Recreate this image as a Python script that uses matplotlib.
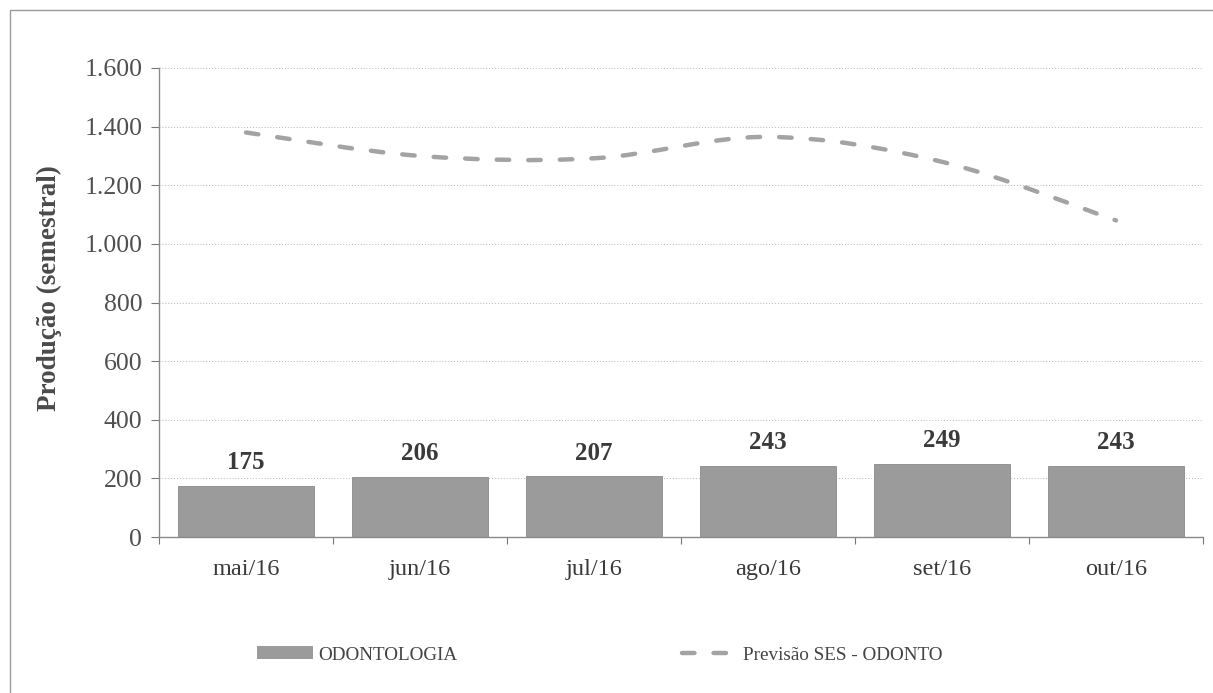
import matplotlib
matplotlib.use("Agg")
import matplotlib.pyplot as plt
from matplotlib.path import Path
from matplotlib.patches import PathPatch, Rectangle
from matplotlib.lines import Line2D
from matplotlib.ticker import FuncFormatter, FixedLocator
import numpy as np

meses = ["mai/16", "jun/16", "jul/16", "ago/16", "set/16", "out/16"]
odontologia = [175, 206, 207, 243, 249, 243]
previsao_ses = [1380, 1300, 1292, 1365, 1280, 1080]

plt.rcParams["font.family"] = ["Liberation Serif", "DejaVu Serif"]

BAR_COLOR = "#9b9b9b"
LINE_COLOR = "#a3a3a3"
TEXT_COLOR = "#3a3a3a"
DASHES = (0, (2.8, 4.3))


def smooth_path(xs, ys):
    # bezier segments through every point, tangents from neighbours
    xs = np.asarray(xs, float)
    ys = np.asarray(ys, float)
    pts = np.column_stack([xs, ys])
    n = len(pts)
    verts = [pts[0]]
    codes = [Path.MOVETO]
    for i in range(n - 1):
        p0 = pts[max(i - 1, 0)]
        p1 = pts[i]
        p2 = pts[i + 1]
        p3 = pts[min(i + 2, n - 1)]
        c1 = p1 + (p2 - p0) / 6.0
        c2 = p2 - (p3 - p1) / 6.0
        verts += [c1, c2, p2]
        codes += [Path.CURVE4] * 3
    return Path(verts, codes)


fig = plt.figure(figsize=(12.13, 6.93), dpi=100)
ax = fig.add_axes([159 / 1213, 1 - 537 / 693, (1203 - 159) / 1213, (537 - 68) / 693])

x = np.arange(len(meses))
ax.bar(x, odontologia, width=0.78, color=BAR_COLOR, edgecolor="#8a8a8a",
       linewidth=0.6, zorder=2)

for xi, v in zip(x, odontologia):
    ax.text(xi, v + 40, f"{v}", ha="center", va="bottom", fontsize=18,
            fontweight="bold", color=TEXT_COLOR, zorder=4)

curve = PathPatch(smooth_path(x, previsao_ses), fill=False, edgecolor=LINE_COLOR,
                  linewidth=3.2, linestyle=DASHES, capstyle="round", zorder=3)
ax.add_patch(curve)

ax.set_xlim(-0.5, len(meses) - 0.5)
ax.set_ylim(0, 1600)
ax.yaxis.set_major_locator(FixedLocator(np.arange(0, 1601, 200)))
ax.yaxis.set_major_formatter(FuncFormatter(lambda v, p: f"{int(v):,}".replace(",", ".")))
ax.set_xticks(x)
ax.set_xticklabels(meses)
ax.set_xticks(np.arange(-0.5, len(meses)), minor=True)

ax.tick_params(axis="x", which="major", length=0, pad=16, labelsize=17.5, labelcolor=TEXT_COLOR)
ax.tick_params(axis="x", which="minor", length=5, width=0.8, color="#777777", direction="out")
ax.tick_params(axis="y", length=6, width=0.8, color="#777777", pad=6,
               labelsize=18.5, labelcolor="#4f4f4f")

ax.grid(axis="y", linestyle=(0, (1, 2)), linewidth=0.7, color="#b5b5b5", zorder=0)
ax.set_axisbelow(True)

for side in ("top", "right"):
    ax.spines[side].set_visible(False)
for side in ("left", "bottom"):
    ax.spines[side].set_color("#8a8a8a")
    ax.spines[side].set_linewidth(1.0)

ax.set_ylabel("Produção (semestral)", fontsize=19.5, fontweight="bold",
              color="#4a4a4a")
ax.yaxis.set_label_coords(-0.093, 0.53)

handles = [
    Rectangle((0, 0), 1, 1, facecolor=BAR_COLOR, edgecolor="none"),
    Line2D([], [], color=LINE_COLOR, linewidth=3.2, linestyle=DASHES,
           dash_capstyle="round"),
]
fig.legend(handles, ["ODONTOLOGIA", "Previsão SES - ODONTO"], loc="center",
           bbox_to_anchor=(600 / 1213, 1 - 655 / 693), ncol=2, frameon=False,
           fontsize=13.8, handlelength=2.9, handleheight=0.65, handletextpad=0.3,
           columnspacing=11.7, labelcolor="#444444")

# frame around the whole chart, open at right and bottom
fig.add_artist(Rectangle((10 / 1213, -0.1), 1.2, 1 - 10 / 693 + 0.1,
                         transform=fig.transFigure, fill=False,
                         edgecolor="#9a9a9a", linewidth=1.0))

fig.savefig("out.png", dpi=100, facecolor="white")
